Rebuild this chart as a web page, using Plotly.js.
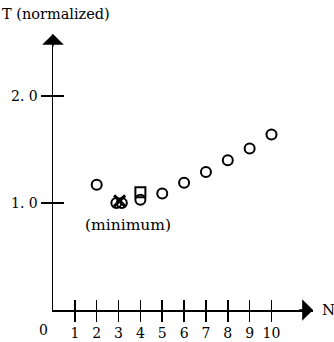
<!DOCTYPE html>
<html>
<head>
<meta charset="utf-8">
<script src="https://cdn.plot.ly/plotly-3.0.1.min.js"></script>
<style>html,body{margin:0;padding:0;background:#fff}#chart{width:334px;height:342px}</style>
</head>
<body>
<div id="chart"></div>
<script>
// Data
const circleN = [2, 2.9, 3.15, 4, 5, 6, 7, 8, 9, 10];
const circleT = [1.17, 1.0, 1.0, 1.03, 1.09, 1.19, 1.29, 1.40, 1.51, 1.64];
const squareN = [4];
const squareT = [1.10];
const minN = [3.05];
const minT = [1.02];
const xTickVals = [1, 2, 3, 4, 5, 6, 7, 8, 9, 10];
const xTickText = ['1', '2', '3', '4', '5', '6', '7', '8', '9', '10'];
const yTickVals = [1, 2];
const yTickText = ['1. 0', '2. 0'];

const FONT = 'DejaVu Serif, Liberation Serif, serif';

const traces = [
  {x: circleN, y: circleT, mode: 'markers', type: 'scatter', cliponaxis: false,
   marker: {symbol: 'circle-open', size: 10, color: '#000', line: {width: 2, color: '#000'}}},
  {x: squareN, y: squareT, mode: 'markers', type: 'scatter', cliponaxis: false,
   marker: {symbol: 'square-open', size: 10, color: '#000', line: {width: 2, color: '#000'}}},
  {x: minN, y: minT, mode: 'markers', type: 'scatter', cliponaxis: false,
   marker: {symbol: 'x-thin-open', size: 11, color: '#000', line: {width: 3, color: '#000'}}},
  {x: xTickVals, y: xTickVals.map(() => 0), xaxis: 'x2', yaxis: 'y2', mode: 'markers',
   type: 'scatter', marker: {opacity: 0}, hoverinfo: 'skip'}
];

const layout = {
  width: 334, height: 342,
  margin: {l: 53, r: 21, t: 34, b: 32},
  paper_bgcolor: '#fff', plot_bgcolor: '#fff',
  showlegend: false,
  font: {family: FONT, size: 14, color: '#000'},
  title: {text: 'T (normalized)', x: 0.006, xref: 'container', xanchor: 'left',
          y: 0.96, yref: 'container', yanchor: 'middle',
          font: {family: FONT, size: 14.5, color: '#000'}},
  xaxis: {range: [0, 11.9], showgrid: false, zeroline: false, showline: true,
          linecolor: '#000', linewidth: 1.5, ticks: 'outside', ticklen: 10, tickwidth: 1.5,
          tickcolor: '#000', tickvals: xTickVals, ticktext: xTickText, fixedrange: true,
          tickfont: {family: FONT, size: 14, color: '#000'}},
  xaxis2: {range: [0, 11.9], overlaying: 'x', anchor: 'y', side: 'bottom', showgrid: false,
           zeroline: false, showline: false, ticks: 'inside', ticklen: 10, tickwidth: 1.5,
           tickcolor: '#000', tickvals: xTickVals, showticklabels: false},
  yaxis: {range: [0, 2.58], showgrid: false, zeroline: false, showline: true,
          linecolor: '#000', linewidth: 1.5, ticks: 'outside', ticklen: 11, tickwidth: 1.5,
          tickcolor: '#000', tickvals: yTickVals, ticktext: yTickText, fixedrange: true,
          tickfont: {family: FONT, size: 14, color: '#000'}},
  yaxis2: {range: [0, 2.58], overlaying: 'y', anchor: 'x', side: 'left', showgrid: false,
           zeroline: false, showline: false, ticks: 'inside', ticklen: 11, tickwidth: 1.5,
           tickcolor: '#000', tickvals: yTickVals, showticklabels: false},
  annotations: [
    {x: 11.9, y: 0, ax: 11.2, ay: 0, xref: 'x', yref: 'y', axref: 'x', ayref: 'y',
     text: '', showarrow: true, arrowhead: 1, arrowsize: 2.4, arrowwidth: 1.5, arrowcolor: '#000'},
    {x: 0, y: 2.58, ax: 0, ay: 2.45, xref: 'x', yref: 'y', axref: 'x', ayref: 'y',
     text: '', showarrow: true, arrowhead: 1, arrowsize: 2.4, arrowwidth: 1.5, arrowcolor: '#000'},
    {x: 11.9, y: 0, xref: 'x', yref: 'y', text: 'N', showarrow: false, xanchor: 'left',
     xshift: 7, font: {family: FONT, size: 15, color: '#000'}},
    {x: 0, y: 0, xref: 'x', yref: 'y', text: '0', showarrow: false, xanchor: 'center',
     yanchor: 'middle', xshift: -10, yshift: -20, font: {family: FONT, size: 14, color: '#000'}},
    {x: 3.43, y: 0.79, xref: 'x', yref: 'y', text: '(minimum)', showarrow: false,
     font: {family: FONT, size: 15.5, color: '#000'}}
  ]
};

Plotly.newPlot('chart', traces, layout, {staticPlot: true, displayModeBar: false});
</script>
</body>
</html>
